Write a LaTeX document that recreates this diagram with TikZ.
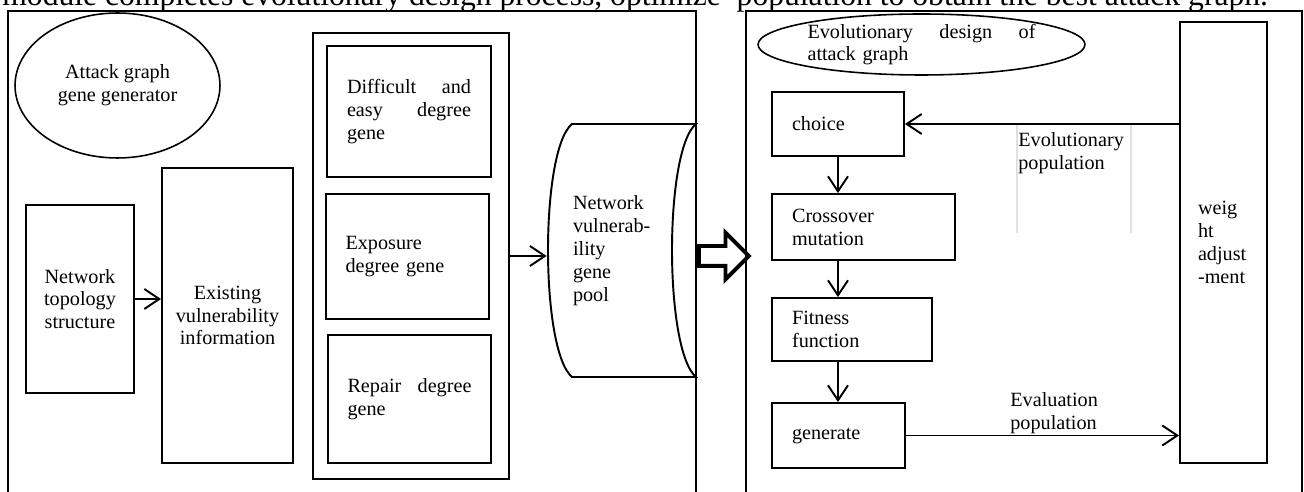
\documentclass[tikz,border=0pt]{standalone}
\usepackage{fontspec}
\setmainfont{Liberation Serif}
\usetikzlibrary{arrows.meta,shapes.geometric,shapes.arrows}

\begin{document}
\begin{tikzpicture}[x=0.02cm, y=-0.02cm, font=\fontsize{11.5}{13}\selectfont,
            box/.style = {draw, line width=1.1pt, inner sep=0pt},
            oval/.style = {draw, ellipse, line width=0.9pt, inner sep=0pt},
            panel/.style = {draw, line width=1.1pt},
            flow/.style = {-{Straight Barb[length=0.3cm, width=0.4cm]}, line width=1.1pt}]
            \useasboundingbox (0,0) rectangle (1304,492);
            \clip (0,0) rectangle (1304,492);

            % Titre (coupé en haut)
            \node[anchor=base west, inner sep=0pt, font=\fontsize{18}{20}\selectfont] (title) at (2,6)
                {module completes evolutionary design process, optimize\ \ population to obtain the best attack graph.};

            % Panneaux
            \draw[panel] (8,520) -- (8,11) -- (696,11) -- (696,520);
            \draw[panel] (746,520) -- (746,11) -- (1302,11) -- (1302,520);

            % Nœuds, partie gauche
            \node[oval, minimum width=4.1cm, minimum height=2.9cm, align=center] (attackgen) at (117.5,85.5) {Attack graph\\gene generator};

            \node[box, minimum width=2.16cm, minimum height=3.76cm, align=center] (topo) at (80,299) {Network\\topology\\structure};

            \node[box, minimum width=2.62cm, minimum height=5.9cm, align=center] (vuln) at (227.5,315.5) {Existing\\vulnerability\\information};

            \node[box, minimum width=3.92cm, minimum height=8.92cm] (genes) at (411,256) {};

            \node[box, minimum width=3.28cm, minimum height=2.62cm, text width=2.48cm, align=left] (hard) at (409,111.5) {Difficult\hfill and\\easy\hfill degree\\gene};

            \node[box, minimum width=3.26cm, minimum height=2.5cm, text width=2.48cm, align=left] (expo) at (407.5,256.5) {Exposure\\degree gene};

            \node[box, minimum width=3.26cm, minimum height=2.56cm, text width=2.48cm, align=left] (repair) at (409.5,399) {Repair\hfill degree\\gene};

            \node[inner sep=0pt, minimum width=3cm, minimum height=5.06cm, text width=1.96cm, align=left] (pool) at (622,250.5) {Network\\vulnerab-\\ility\\gene\\pool};
            \draw[line width=1.1pt] (572,124) -- (696,124) .. controls (664,150) and (664,350) .. (696,377)
                -- (572,377) .. controls (540,350) and (540,150) .. (572,124) -- cycle;

            \node[draw, single arrow, line width=2.2pt, single arrow head extend=0.27cm, inner sep=0.16cm,
                  minimum height=1cm, anchor=tail] (handoff) at (697,256) {};

            % Nœuds, partie droite
            \node[oval, minimum width=6.54cm, minimum height=1.22cm, text width=4.56cm, align=left] (evo) at (921.5,44.5) {Evolutionary\hfill design\hfill of\\attack graph};

            \node[box, minimum width=2.64cm, minimum height=1.28cm, text width=1.84cm, align=left] (choice) at (838,124) {choice};

            \node[box, minimum width=3.66cm, minimum height=1.32cm, text width=2.86cm, align=left] (cross) at (863.5,227) {Crossover\\mutation};

            \node[box, minimum width=3.2cm, minimum height=1.26cm, text width=2.4cm, align=left] (fitness) at (852,329.5) {Fitness\\function};

            \node[box, minimum width=2.66cm, minimum height=1.3cm, text width=1.86cm, align=left] (generate) at (838.5,435.5) {generate};

            \node[box, minimum width=1.74cm, minimum height=8.82cm, text width=1.02cm, align=left] (weight) at (1223.5,242.5) {weig\\ht\\adjust\\-ment};

            \node[inner sep=0pt, anchor=north west, text width=2.2cm, align=left] (evopop) at (1018,132) {Evolutionary\\population};
            \draw[black!12, line width=0.6pt] (1017,124) -- (1017,233) (1131,124) -- (1131,233);

            \node[inner sep=0pt, anchor=north west, text width=2.2cm, align=left] (evalpop) at (1010,392) {Evaluation\\population};

            % Flèches
            \draw[flow] (topo.east) -- (topo.east -| vuln.west);
            \draw[flow] (genes.east) -- (genes.east -| pool.west);
            \draw[flow] (choice.south) -- (choice.south |- cross.north);
            \draw[flow] (choice.south |- cross.south) -- (choice.south |- fitness.north);
            \draw[flow] (choice.south |- fitness.south) -- (choice.south |- generate.north);
            \draw[flow] (weight.west |- choice.east) -- (choice.east);
            \draw[flow] (generate.east) -- (generate.east -| weight.west);
        \end{tikzpicture}
\end{document}
